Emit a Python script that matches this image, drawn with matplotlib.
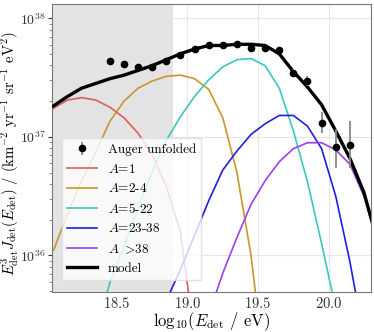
import matplotlib
matplotlib.use("Agg")
import matplotlib.pyplot as plt
import numpy as np

plt.rcParams['font.family'] = 'serif'
plt.rcParams['font.serif'] = ['cmr10']
plt.rcParams['mathtext.fontset'] = 'cm'
plt.rcParams['axes.formatter.use_mathtext'] = True
plt.rcParams['axes.unicode_minus'] = False

# Auger unfolded points (log10 E, log10 flux, errors in dex)
lgE_data = np.array([18.45, 18.55, 18.65, 18.75, 18.85, 18.95, 19.05, 19.15, 19.25,
                     19.35, 19.45, 19.55, 19.65, 19.75, 19.85, 19.95, 20.05, 20.15])
lgF_data = np.array([37.64, 37.61, 37.59, 37.59, 37.64, 37.69, 37.74, 37.77, 37.77,
                     37.78, 37.75, 37.75, 37.73, 37.54, 37.47, 37.12, 36.91, 36.93])
err_lo = np.array([0.01, 0.01, 0.01, 0.01, 0.01, 0.01, 0.01, 0.01, 0.01,
                   0.01, 0.01, 0.015, 0.02, 0.035, 0.04, 0.09, 0.17, 0.19])
err_hi = np.array([0.01, 0.01, 0.01, 0.01, 0.01, 0.01, 0.01, 0.01, 0.01,
                   0.01, 0.01, 0.015, 0.02, 0.035, 0.045, 0.09, 0.16, 0.20])

# model grid
lgE = np.array([18.05, 18.15, 18.25, 18.35, 18.45, 18.55, 18.65, 18.75, 18.85, 18.95,
                19.05, 19.15, 19.25, 19.35, 19.45, 19.55, 19.65, 19.75, 19.85, 19.95,
                20.05, 20.15, 20.25, 20.35])
lg_A1 = np.array([37.24, 37.31, 37.33, 37.31, 37.25, 37.16, 37.03, 36.85, 36.58, 36.20,
                  35.30, 34.5, 34.0, 33.5, 33.0, 32.5, 32.0, 31.5, 31.0, 30.5,
                  30.0, 29.5, 29.0, 28.5])
lg_A2_4 = np.array([36.04, 36.35, 36.63, 36.87, 37.13, 37.30, 37.41, 37.47, 37.51, 37.52,
                    37.49, 37.40, 37.16, 36.70, 36.00, 35.00, 34.0, 33.0, 32.0, 31.0,
                    30.0, 29.0, 28.0, 27.0])
lg_A5_22 = np.array([33.5, 34.2, 34.8, 35.35, 35.77, 36.08, 36.40, 36.71, 36.97, 37.17,
                     37.34, 37.48, 37.59, 37.65, 37.66, 37.60, 37.41, 37.05, 36.62, 36.10,
                     35.55, 34.8, 34.0, 33.0])
lg_A23_38 = np.array([32.0, 32.6, 33.2, 33.8, 34.4, 34.8, 35.1, 35.4, 35.62, 35.88,
                      36.17, 36.46, 36.72, 36.88, 37.02, 37.11, 37.18, 37.18, 37.09, 36.90,
                      36.50, 35.95, 35.30, 34.5])
lg_A38 = np.array([31.0, 31.6, 32.2, 32.8, 33.3, 33.8, 34.2, 34.6, 34.9, 35.2,
                   35.4, 35.5, 35.85, 36.15, 36.43, 36.63, 36.79, 36.90, 36.95, 36.95,
                   36.89, 36.77, 36.50, 36.10])
lg_model = np.array([37.26, 37.34, 37.41, 37.45, 37.49, 37.52, 37.56, 37.60, 37.65, 37.70,
                     37.74, 37.77, 37.77, 37.78, 37.78, 37.77, 37.70, 37.55, 37.42, 37.27,
                     37.05, 36.82, 36.53, 36.10])

fig = plt.figure(figsize=(3.74, 3.32), dpi=100)
ax = fig.add_axes([0.139, 0.12, 0.853, 0.868])

ax.axvspan(17.9, 18.9, color='#e3e3e3', zorder=0, lw=0)

comps = [(lg_A1, '#d9605f', '$A$=1'),
         (lg_A2_4, '#c8962a', '$A$=2-4'),
         (lg_A5_22, '#3cc6bf', '$A$=5-22'),
         (lg_A23_38, '#1f1fe0', '$A$=23-38'),
         (lg_A38, '#9b3ff0', r'$A\ >\!38$')]

F = 10**lgF_data
yerr = [F - 10**(lgF_data - err_lo), 10**(lgF_data + err_hi) - F]
h_data = ax.errorbar(lgE_data, F, yerr=yerr, fmt='o', color='black', ms=4.5,
                     ecolor='#888888', elinewidth=1.3, label='Auger unfolded', zorder=5)

handles = [h_data]
for lg, col, lab in comps:
    h, = ax.plot(lgE, 10**lg, color=col, lw=1.2, label=lab, zorder=3)
    handles.append(h)
h, = ax.plot(lgE, 10**lg_model, color='black', lw=2.4, label='model', zorder=4)
handles.append(h)

ax.set_yscale('log')
ax.set_xlim(18.04, 20.30)
ax.set_ylim(10**35.69, 10**38.12)
ax.set_xticks([18.5, 19.0, 19.5, 20.0])
ax.grid(True, which='major', color='#e6e6e6', lw=0.8, zorder=1)
ax.set_axisbelow(True)
for s in ax.spines.values():
    s.set_color('#777777')
ax.tick_params(axis='x', length=0, pad=3, labelsize=10.5, colors='#333333')
ax.tick_params(axis='y', which='major', length=3, pad=1.5, labelsize=10, colors='#333333')
ax.tick_params(axis='y', which='minor', length=2, colors='#777777')
ax.set_xlabel(r'${\rm log}_{10}(E_{\rm det}$ / eV)', fontsize=12)
ax.xaxis.set_label_coords(0.5, -0.062)
ax.set_ylabel(r'$E^3_{\rm det}J_{\rm det}(E_{\rm det})$ / (km$^{-2}$ yr$^{-1}$ sr$^{-1}$ eV$^2$)',
              fontsize=10.6)
ax.yaxis.set_label_coords(-0.097, 0.48)

leg = ax.legend(handles=handles, loc='lower left', fontsize=9.5, handlelength=2.3,
                framealpha=0.8, edgecolor='#dddddd', fancybox=False, borderpad=0.4,
                labelspacing=0.5, bbox_to_anchor=(0.01, 0.02))
leg.set_zorder(10)

fig.savefig('out.png', dpi=100)
